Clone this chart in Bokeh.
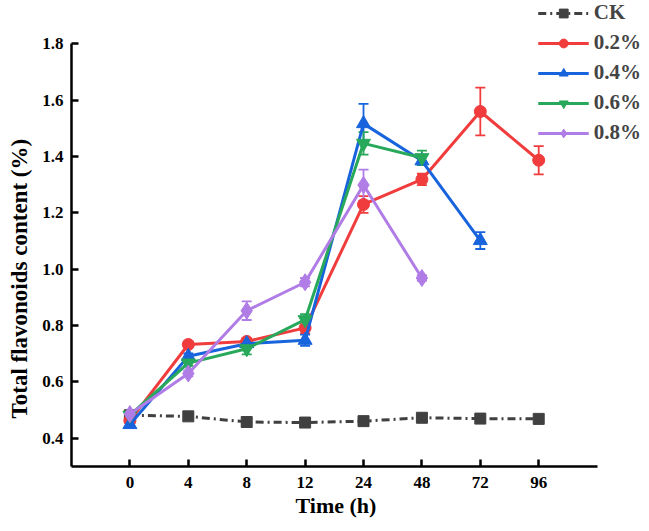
from bokeh.plotting import figure
from bokeh.models import (Range1d, FixedTicker, Legend, LegendItem, Whisker,
                          TeeHead, ColumnDataSource, Title)
from bokeh.embed import file_html
from bokeh.resources import INLINE

# ---- data ----
times = ["0", "4", "8", "12", "24", "48", "72", "96"]
y_ticks = [0.4, 0.6, 0.8, 1.0, 1.2, 1.4, 1.6, 1.8]
x_title = "Time (h)"
y_title = "Total flavonoids content (%)"

ck = [0.482, 0.478, 0.458, 0.456, 0.461, 0.473, 0.470, 0.469]
ck_err = [0.005, 0.005, 0.005, 0.005, 0.005, 0.005, 0.005, 0.005]
p02 = [0.463, 0.733, 0.744, 0.792, 1.230, 1.319, 1.560, 1.387]
p02_err = [0.01, 0.01, 0.01, 0.02, 0.03, 0.02, 0.085, 0.05]
p04 = [0.449, 0.691, 0.736, 0.748, 1.517, 1.385, 1.102]
p04_err = [0.01, 0.01, 0.01, 0.02, 0.07, 0.015, 0.03]
p06 = [0.482, 0.667, 0.718, 0.821, 1.447, 1.396]
p06_err = [0.01, 0.01, 0.02, 0.02, 0.04, 0.025]
p08 = [0.486, 0.630, 0.853, 0.954, 1.299, 0.969]
p08_err = [0.01, 0.01, 0.033, 0.015, 0.055, 0.01]

series = [
    ("CK", ck, ck_err, "#404040", "square", 11, "8 4 2 4"),
    ("0.2%", p02, p02_err, "#f03c3c", "circle", 12, "solid"),
    ("0.4%", p04, p04_err, "#1864dc", "triangle", 14, "solid"),
    ("0.6%", p06, p06_err, "#27a85a", "inverted_triangle", 14, "solid"),
    ("0.8%", p08, p08_err, "#b07ce6", "diamond", 17, "solid"),
]

FONT = "Liberation Serif"

p = figure(width=641, height=523, output_backend="svg", toolbar_location=None,
           x_range=Range1d(-1, 8.76), y_range=Range1d(0.3, 1.954),
           min_border_left=71, min_border_right=0, min_border_top=0,
           min_border_bottom=57)
p.outline_line_color = None
p.xgrid.visible = False
p.ygrid.visible = False
p.background_fill_color = "white"

items = []
for name, vals, errs, color, marker, size, dash in series:
    xs = list(range(len(vals)))
    src = ColumnDataSource(dict(x=xs, y=vals,
                                lo=[v - e for v, e in zip(vals, errs)],
                                hi=[v + e for v, e in zip(vals, errs)]))
    r_line = p.line("x", "y", source=src, line_color=color, line_width=3,
                    line_dash=dash)
    wh = Whisker(source=src, base="x", lower="lo", upper="hi",
                 line_color=color, line_width=1.8,
                 upper_head=TeeHead(size=10, line_color=color, line_width=1.8),
                 lower_head=TeeHead(size=10, line_color=color, line_width=1.8))
    p.add_layout(wh)
    r_pt = p.scatter("x", "y", source=src, marker=marker, size=size,
                     fill_color=color, line_color=color)
    items.append(LegendItem(label=name, renderers=[r_line, r_pt]))

legend = Legend(items=items, location="top_right")
legend.margin = 0
legend.padding = 0
legend.border_line_color = None
legend.background_fill_alpha = 0
legend.label_text_font = FONT
legend.label_text_font_style = "bold"
legend.label_text_font_size = "21px"
legend.glyph_width = 51
legend.glyph_height = 22
legend.label_height = 22
legend.spacing = 5
legend.label_standoff = 5
p.add_layout(legend)

# x axis
xa = p.xaxis[0]
xa.ticker = FixedTicker(ticks=list(range(len(times))))
xa.major_label_overrides = {i: t for i, t in enumerate(times)}
xa.bounds = (-1, len(times))

# y axis
ya = p.yaxis[0]
ya.ticker = FixedTicker(ticks=y_ticks)
ya.major_label_overrides = {t: f"{t:.1f}" for t in y_ticks}
ya.bounds = (0.3, 1.8)

for ax in (xa, ya):
    ax.axis_line_color = "black"
    ax.axis_line_width = 2.5
    ax.major_tick_line_color = "black"
    ax.major_tick_line_width = 2.5
    ax.major_tick_in = 7
    ax.major_tick_out = 0
    ax.minor_tick_line_color = None
    ax.major_label_text_font = FONT
    ax.major_label_text_font_style = "bold"
    ax.major_label_text_font_size = "17px"
    ax.major_label_text_color = "black"
    ax.major_label_standoff = 8
xa.major_label_standoff = 10

# axis titles as side titles so they can be centred on the drawn axis lines
p.add_layout(Title(text=x_title, align="left", offset=224, standoff=0,
                   vertical_align="bottom", text_font=FONT,
                   text_font_style="bold", text_font_size="22px",
                   text_color="black"), "below")
p.add_layout(Title(text=y_title, align="left", offset=48, standoff=11,
                   vertical_align="top", text_font=FONT,
                   text_font_style="bold", text_font_size="23px",
                   text_color="black"), "left")

open("out.html", "w").write(file_html(p, INLINE))
